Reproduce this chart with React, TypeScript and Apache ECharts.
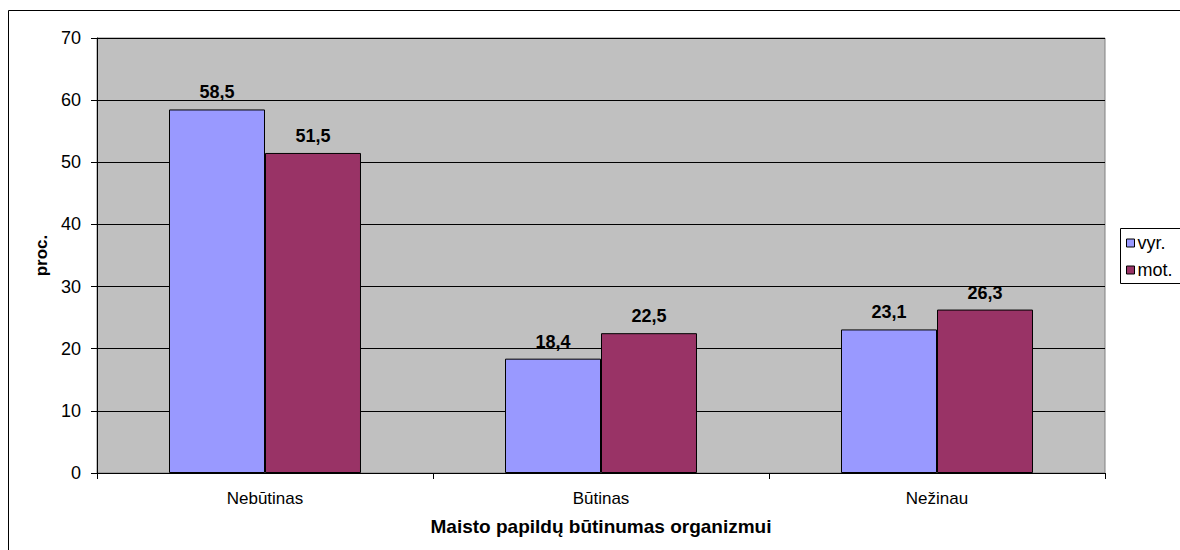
import React, { useEffect, useRef } from "react";
import * as echarts from "echarts";

const categories = ["Nebūtinas", "Būtinas", "Nežinau"];
const vyrValues = [58.5, 18.4, 23.1];
const motValues = [51.5, 22.5, 26.3];
const seriesNames = ["vyr.", "mot."];
const yTicks = { min: 0, max: 70, interval: 10 };
const xTitle = "Maisto papildų būtinumas organizmui";
const yTitle = "proc.";

const FONT = "'Liberation Sans', Arial, sans-serif";

const fmt = (v: number) => String(v).replace(".", ",");

export default function App() {
  const ref = useRef<HTMLDivElement>(null);

  useEffect(() => {
    if (!ref.current) return;
    const chart = echarts.init(ref.current, null, { renderer: "svg" });

    const labelStyle = {
      show: true,
      position: "top" as const,
      distance: 8,
      color: "#000",
      fontFamily: FONT,
      fontWeight: "bold" as const,
      fontSize: 18,
      formatter: (p: any) => fmt(p.value),
    };

    chart.setOption({
      animation: false,
      textStyle: { fontFamily: FONT, color: "#000" },
      grid: {
        left: 97,
        top: 38,
        right: 75,
        bottom: 77,
        show: true,
        backgroundColor: "#C0C0C0",
        borderColor: "#808080",
        borderWidth: 1,
      },
      graphic: [
        {
          type: "rect",
          z: 0,
          shape: { x: 8.5, y: 10.5, width: 1400, height: 800 },
          style: { fill: "none", stroke: "#000", lineWidth: 1 },
          silent: true,
        },
        {
          type: "rect",
          z: 1,
          shape: { x: 1120.5, y: 228.5, width: 100, height: 55 },
          style: { fill: "#fff", stroke: "#000", lineWidth: 1 },
          silent: true,
        },
      ],
      legend: {
        orient: "vertical",
        left: 1122,
        top: 230,
        z: 10,
        padding: [4, 4, 4, 4],
        itemGap: 9,
        itemWidth: 8,
        itemHeight: 8,
        icon: "rect",
        itemStyle: { borderColor: "#000", borderWidth: 1 },
        textStyle: { fontFamily: FONT, fontSize: 18, color: "#000", padding: [0, 0, 0, -2] },
        data: seriesNames,
      },
      xAxis: {
        type: "category",
        data: categories,
        axisLine: { lineStyle: { color: "#000", width: 1 } },
        axisTick: { show: true, length: 6, lineStyle: { color: "#000" } },
        axisLabel: { color: "#000", fontSize: 17, fontFamily: FONT, margin: 17 },
        name: xTitle,
        nameLocation: "middle",
        nameGap: 44,
        nameTextStyle: { fontFamily: FONT, fontWeight: "bold", fontSize: 19, color: "#000" },
      },
      yAxis: {
        type: "value",
        min: yTicks.min,
        max: yTicks.max,
        interval: yTicks.interval,
        axisLine: { show: true, lineStyle: { color: "#000", width: 1 } },
        axisTick: { show: true, length: 6, lineStyle: { color: "#000" } },
        axisLabel: { color: "#000", fontSize: 18, fontFamily: FONT, margin: 16 },
        splitLine: { show: true, lineStyle: { color: "#000", width: 1 } },
        name: yTitle,
        nameLocation: "middle",
        nameRotate: 90,
        nameGap: 45,
        nameTextStyle: { fontFamily: FONT, fontWeight: "bold", fontSize: 17, color: "#000" },
      },
      series: [
        {
          name: seriesNames[0],
          type: "bar",
          data: vyrValues,
          barGap: "0%",
          barCategoryGap: "42.86%",
          itemStyle: { color: "#9999FF", borderColor: "#000", borderWidth: 1 },
          label: labelStyle,
        },
        {
          name: seriesNames[1],
          type: "bar",
          data: motValues,
          barGap: "0%",
          barCategoryGap: "42.86%",
          itemStyle: { color: "#993366", borderColor: "#000", borderWidth: 1 },
          label: labelStyle,
        },
      ],
    });

    return () => chart.dispose();
  }, []);

  return (
    <div
      ref={ref}
      style={{ position: "absolute", left: 0, top: 0, width: 1180, height: 550, background: "#fff" }}
    />
  );
}
